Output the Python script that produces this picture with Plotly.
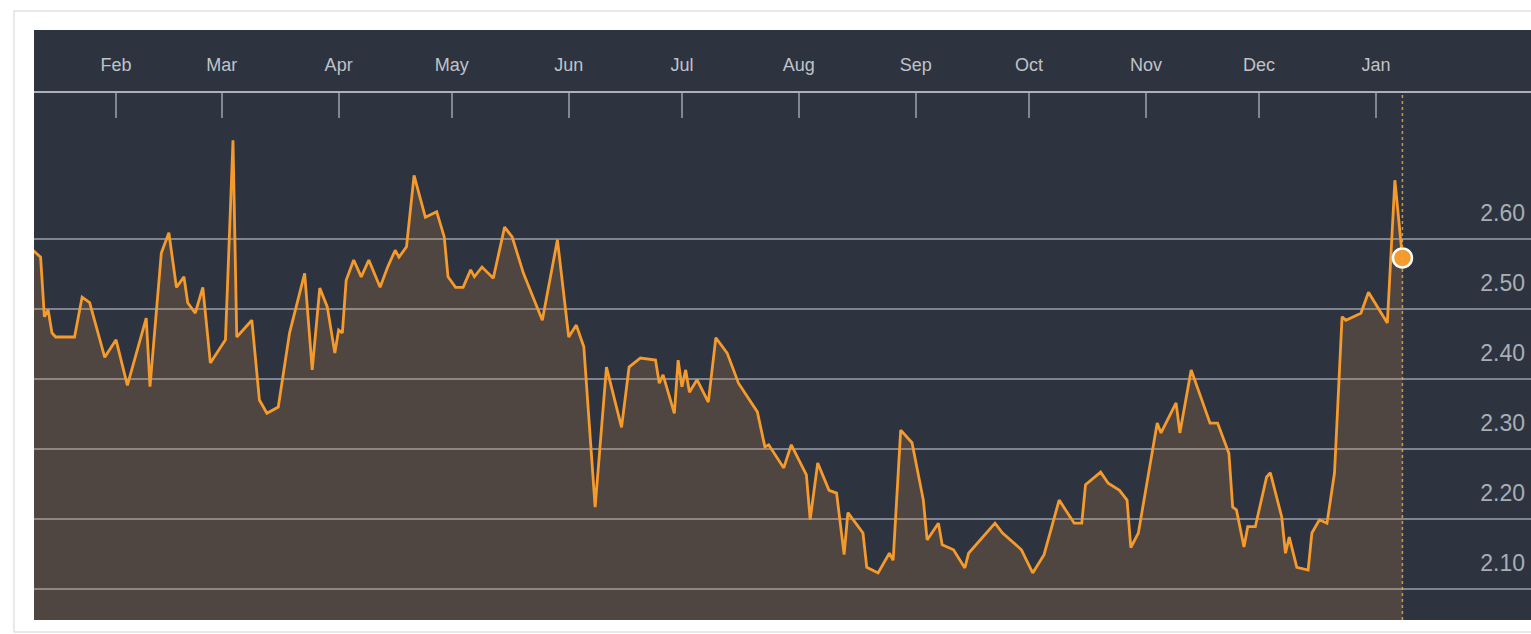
import plotly.graph_objects as go

# Daily closing yield readings (%), Jan 2017 - Jan 2018
dates = [
    "2017-01-10", "2017-01-12", "2017-01-13", "2017-01-14", "2017-01-15", "2017-01-16",
    "2017-01-21", "2017-01-23", "2017-01-25", "2017-01-29", "2017-02-01", "2017-02-04",
    "2017-02-09", "2017-02-10", "2017-02-13", "2017-02-15", "2017-02-17", "2017-02-19",
    "2017-02-20", "2017-02-22", "2017-02-24", "2017-02-26", "2017-03-02", "2017-03-04",
    "2017-03-05", "2017-03-09", "2017-03-11", "2017-03-13", "2017-03-16", "2017-03-19",
    "2017-03-23", "2017-03-25", "2017-03-27", "2017-03-29", "2017-03-31", "2017-04-01",
    "2017-04-02", "2017-04-03", "2017-04-05", "2017-04-07", "2017-04-09", "2017-04-12",
    "2017-04-14", "2017-04-16", "2017-04-17", "2017-04-19", "2017-04-21", "2017-04-24",
    "2017-04-27", "2017-04-29", "2017-04-30", "2017-05-02", "2017-05-04", "2017-05-06",
    "2017-05-07", "2017-05-09", "2017-05-12", "2017-05-15", "2017-05-17", "2017-05-20",
    "2017-05-25", "2017-05-29", "2017-06-01", "2017-06-03", "2017-06-05", "2017-06-08",
    "2017-06-11", "2017-06-15", "2017-06-17", "2017-06-20", "2017-06-24", "2017-06-25",
    "2017-06-26", "2017-06-29", "2017-06-30", "2017-07-01", "2017-07-02", "2017-07-03",
    "2017-07-05", "2017-07-08", "2017-07-10", "2017-07-13", "2017-07-16", "2017-07-21",
    "2017-07-23", "2017-07-24", "2017-07-28", "2017-07-30", "2017-08-03", "2017-08-04",
    "2017-08-06", "2017-08-09", "2017-08-11", "2017-08-13", "2017-08-14", "2017-08-18",
    "2017-08-19", "2017-08-22", "2017-08-25", "2017-08-26", "2017-08-28", "2017-08-31",
    "2017-09-03", "2017-09-04", "2017-09-07", "2017-09-08", "2017-09-11", "2017-09-14",
    "2017-09-15", "2017-09-22", "2017-09-24", "2017-09-29", "2017-10-02", "2017-10-05",
    "2017-10-09", "2017-10-13", "2017-10-15", "2017-10-16", "2017-10-20", "2017-10-22",
    "2017-10-25", "2017-10-27", "2017-10-28", "2017-10-30", "2017-11-04", "2017-11-05",
    "2017-11-09", "2017-11-10", "2017-11-13", "2017-11-18", "2017-11-20", "2017-11-23",
    "2017-11-24", "2017-11-25", "2017-11-27", "2017-11-28", "2017-11-30", "2017-12-03",
    "2017-12-04", "2017-12-07", "2017-12-08", "2017-12-09", "2017-12-11", "2017-12-14",
    "2017-12-15", "2017-12-17", "2017-12-19", "2017-12-21", "2017-12-23", "2017-12-24",
    "2017-12-28", "2017-12-30", "2018-01-04", "2018-01-06", "2018-01-08",
]
yields = [
    2.584, 2.574, 2.489, 2.499, 2.466, 2.460,
    2.460, 2.517, 2.509, 2.431, 2.456, 2.391,
    2.487, 2.389, 2.580, 2.609, 2.531, 2.546,
    2.509, 2.494, 2.531, 2.423, 2.456, 2.741,
    2.460, 2.484, 2.370, 2.351, 2.360, 2.466,
    2.551, 2.413, 2.530, 2.503, 2.437, 2.470,
    2.466, 2.541, 2.570, 2.546, 2.570, 2.531,
    2.560, 2.584, 2.574, 2.589, 2.691, 2.631,
    2.639, 2.603, 2.546, 2.531, 2.531, 2.556,
    2.546, 2.560, 2.544, 2.617, 2.603, 2.551,
    2.484, 2.599, 2.460, 2.477, 2.446, 2.217,
    2.417, 2.331, 2.417, 2.430, 2.427, 2.394,
    2.406, 2.351, 2.427, 2.389, 2.413, 2.381,
    2.399, 2.367, 2.459, 2.437, 2.394, 2.353,
    2.303, 2.306, 2.273, 2.306, 2.263, 2.199,
    2.280, 2.241, 2.237, 2.149, 2.209, 2.180,
    2.131, 2.123, 2.151, 2.141, 2.327, 2.309,
    2.227, 2.170, 2.194, 2.163, 2.156, 2.130,
    2.151, 2.194, 2.180, 2.156, 2.123, 2.149,
    2.227, 2.194, 2.194, 2.249, 2.267, 2.251,
    2.241, 2.227, 2.159, 2.180, 2.337, 2.323,
    2.366, 2.323, 2.413, 2.337, 2.337, 2.294,
    2.217, 2.213, 2.160, 2.189, 2.189, 2.260,
    2.266, 2.203, 2.151, 2.174, 2.131, 2.127,
    2.180, 2.199, 2.194, 2.266, 2.489, 2.484,
    2.494, 2.524, 2.480, 2.684, 2.573,
]

month_ticks = [
    "2017-02-01", "2017-03-01", "2017-04-01", "2017-05-01", "2017-06-01", "2017-07-01",
    "2017-08-01", "2017-09-01", "2017-10-01", "2017-11-01", "2017-12-01", "2018-01-01",
]
month_labels = ["Feb", "Mar", "Apr", "May", "Jun", "Jul", "Aug", "Sep", "Oct", "Nov", "Dec", "Jan"]
yield_ticks = [2.10, 2.20, 2.30, 2.40, 2.50, 2.60]
yield_labels = ["2.10", "2.20", "2.30", "2.40", "2.50", "2.60"]

PANEL = "#2d3440"
ORANGE = "#f59a2c"
GRID = "rgba(180,186,198,0.6)"

W, H = 1531, 634
M_L, M_R, M_T, M_B = 34, 0, 93, 14
plot_h = H - M_T - M_B
plot_w = W - M_L - M_R

fig = go.Figure()

# filled area under the yield line
fig.add_trace(go.Scatter(
    x=dates, y=yields, mode="lines",
    line=dict(color=ORANGE, width=2.8),
    fill="tozeroy", fillcolor="rgba(215,140,70,0.20)",
    hoverinfo="skip", showlegend=False,
))

# latest reading marker
fig.add_trace(go.Scatter(
    x=[dates[-1]], y=[yields[-1]], mode="markers",
    marker=dict(size=19, color=ORANGE, line=dict(color="#ffffff", width=2.5)),
    hoverinfo="skip", showlegend=False, cliponaxis=False,
))

shapes = [
    # outer frame
    dict(type="rect", xref="paper", yref="paper",
         x0=(14 - M_L) / plot_w, x1=1.02,
         y0=-(632 - (H - M_B)) / plot_h, y1=1 + (M_T - 11) / plot_h,
         line=dict(color="#e2e2e2", width=1.5), fillcolor="rgba(0,0,0,0)", layer="below"),
    # header band holding the month labels
    dict(type="rect", xref="paper", yref="paper",
         x0=0, x1=1, y0=1, y1=1 + (M_T - 30) / plot_h,
         line=dict(width=0), fillcolor=PANEL, layer="below"),
    # dotted cursor through the latest reading
    dict(type="line", xref="x", yref="paper",
         x0=dates[-1], x1=dates[-1], y0=0, y1=1,
         line=dict(color="rgba(230,170,70,0.85)", width=1.5, dash="dot"), layer="above"),
]

fig.update_layout(
    width=W, height=H,
    margin=dict(l=M_L, r=M_R, t=M_T, b=M_B, pad=0),
    paper_bgcolor="#ffffff",
    plot_bgcolor=PANEL,
    shapes=shapes,
    showlegend=False,
    font=dict(family="Liberation Sans, Arial, sans-serif"),
    xaxis=dict(
        type="date",
        range=["2017-01-10 06:00", "2018-02-11 02:00"],
        side="top",
        tickmode="array", tickvals=month_ticks, ticktext=month_labels,
        ticks="inside", ticklen=25, tickwidth=2, tickcolor="rgba(150,156,166,0.8)",
        ticklabelstandoff=13,
        tickfont=dict(size=18, color="#c0c3c9"),
        showline=True, linecolor="rgba(185,190,200,0.9)", linewidth=2,
        showgrid=False, zeroline=False, fixedrange=True,
    ),
    yaxis=dict(
        range=[2.0557, 2.8086],
        side="right",
        tickmode="array", tickvals=yield_ticks, ticktext=yield_labels,
        ticklabelposition="inside", ticklabelshift=-26, ticklabelstandoff=3,
        ticks="",
        tickfont=dict(size=23, color="#a9aeb6"),
        showgrid=True, gridcolor=GRID, gridwidth=2,
        showline=False, zeroline=False, fixedrange=True,
    ),
)

fig.write_html("out.html")
